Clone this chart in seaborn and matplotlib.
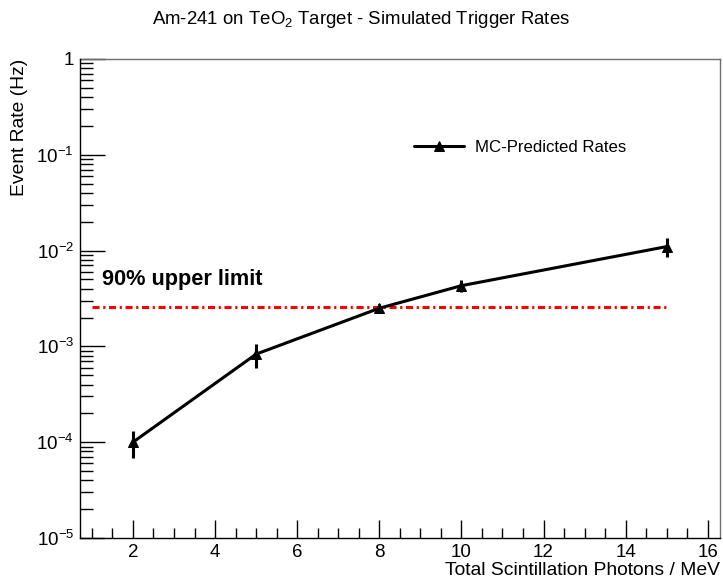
import numpy as np
import pandas as pd
import matplotlib
matplotlib.use("Agg")
import matplotlib.pyplot as plt
import matplotlib.ticker as mticker
import seaborn as sns

# --- data ---
photons = [2, 5, 8, 10, 15]
rates = [1.0e-4, 8.3e-4, 2.5e-3, 4.3e-3, 1.1e-2]
rate_errs = [3.2e-5, 2.3e-4, 2.5e-4, 6.5e-4, 2.5e-3]
limit_rate = 2.6e-3
limit_span = [1, 15]

df = pd.DataFrame({"photons": photons, "rate": rates, "err": rate_errs})

sns.set_style("ticks")
plt.rcParams["font.family"] = ["Liberation Sans", "DejaVu Sans"]
plt.rcParams["mathtext.fontset"] = "custom"
plt.rcParams["mathtext.rm"] = "Liberation Sans"
plt.rcParams["mathtext.it"] = "Liberation Sans:italic"
for k in ["text.color", "axes.labelcolor", "xtick.color", "ytick.color", "axes.edgecolor"]:
    plt.rcParams[k] = "black"

fig = plt.figure(figsize=(7.23, 5.85), dpi=100)
ax = fig.add_axes([0.110, 0.0803, 0.886, 0.819])

# error bars first, then the line with triangle markers
ax.errorbar(df["photons"], df["rate"], yerr=df["err"], fmt="none",
            ecolor="black", elinewidth=2.2, capsize=0, zorder=2)
sns.lineplot(data=df, x="photons", y="rate", ax=ax, color="black",
             linewidth=2.2, marker="^", markersize=7, markeredgecolor="black",
             label="MC-Predicted Rates", zorder=3)

# 90% upper limit
ax.plot(limit_span, [limit_rate, limit_rate], color="red", linewidth=2.2,
        linestyle=(0, (2.3, 1.2, 0.7, 1.2)), zorder=1)
ax.text(1.245, 4.4e-3, "90% upper limit", fontsize=15.7, fontweight="bold",
        ha="left", va="baseline")

ax.set_yscale("log")
ax.set_xlim(0.7, 16.3)
ax.set_ylim(1e-5, 1)

ax.xaxis.set_major_locator(mticker.MultipleLocator(2))
ax.xaxis.set_minor_locator(mticker.MultipleLocator(0.5))
ax.yaxis.set_major_locator(mticker.LogLocator(base=10, numticks=10))
ax.yaxis.set_minor_locator(mticker.LogLocator(base=10, subs=np.arange(2, 10), numticks=20))
ax.yaxis.set_minor_formatter(mticker.NullFormatter())


def ylab(v, pos):
    if abs(v - 1) < 1e-9:
        return "1"
    return r"$10^{%d}$" % int(round(np.log10(v)))


ax.yaxis.set_major_formatter(mticker.FuncFormatter(ylab))

ax.tick_params(axis="both", which="major", direction="in", labelsize=13.5, width=1,
               top=False, right=False)
ax.tick_params(axis="x", which="major", length=13, pad=4)
ax.tick_params(axis="x", which="minor", direction="in", length=7, width=1, top=False)
ax.tick_params(axis="y", which="major", length=18, pad=4)
ax.tick_params(axis="y", which="minor", direction="in", length=9, width=1, right=False)

# ROOT-like frame: black axes on left/bottom, thin grey frame on top/right
for s in ["left", "bottom"]:
    ax.spines[s].set_linewidth(1)
    ax.spines[s].set_zorder(4)
for s in ["top", "right"]:
    ax.spines[s].set_visible(True)
    ax.spines[s].set_linewidth(1)
    ax.spines[s].set_color("#6e6e6e")

ax.set_xlabel("Total Scintillation Photons / MeV", fontsize=13.9, loc="right", labelpad=1)
ax.set_ylabel("Event Rate (Hz)", fontsize=13.9, loc="top", labelpad=6)

ax.legend(loc="center left", bbox_to_anchor=(0.522, 0.816), frameon=False,
          fontsize=12.1, handlelength=3.0, handletextpad=0.65, borderpad=0,
          borderaxespad=0)

fig.suptitle(r"Am-241 on TeO$_2$ Target - Simulated Trigger Rates", fontsize=13.4, y=0.985)

fig.savefig("out.png", dpi=100)
